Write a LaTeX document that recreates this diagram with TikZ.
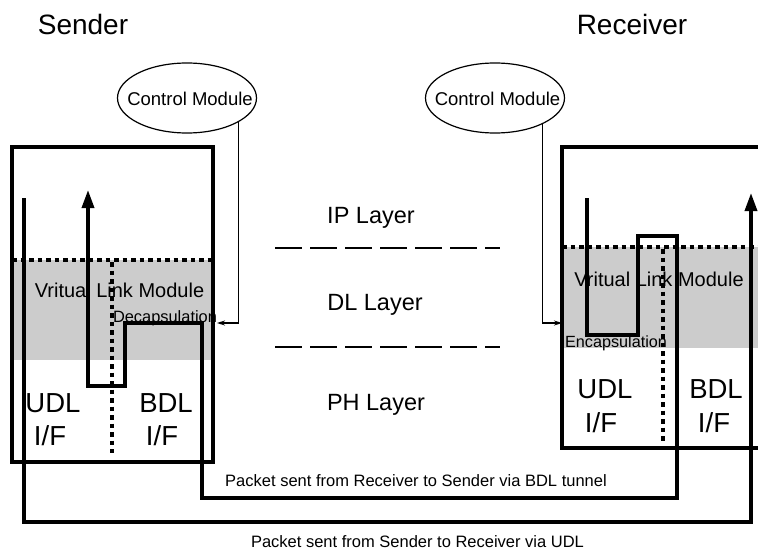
\documentclass[tikz,border=0pt]{standalone}
\usepackage{fontspec}
\setmainfont{Liberation Sans}
\usetikzlibrary{shapes.geometric,arrows.meta}
\newcommand\myfs[1]{\fontsize{#1}{#1}\selectfont}
\begin{document}
\begin{tikzpicture}[x=1pt,y=-1pt,
  lbl/.style={inner sep=0pt,anchor=base},
  modbox/.style={line width=4pt},
  route/.style={line width=3.5pt,line join=miter},
  dotline/.style={line width=3.5pt,dash pattern=on 4.5pt off 4pt},
  layerline/.style={line width=2.5pt,dash pattern=on 27pt off 8pt},
  ctrlmod/.style={draw,ellipse,line width=1.2pt,minimum width=139pt,minimum height=70pt,inner sep=0pt},
  thinarrow/.style={line width=1.2pt,-{Stealth[length=8pt,width=5pt]}},
  bigarrow/.style={-{Triangle[length=18pt,width=12pt]}},
  vlmfill/.style={fill=black!20,draw=none}
]
\path[use as bounding box] (0,0) rectangle (758,551);
\clip (0,0) rectangle (758,551);

% gray virtual link module bands
\fill[vlmfill] (12,260) rectangle (213,360);
\fill[vlmfill] (562,247) rectangle (775,348);

% boxes
\draw[modbox] (12,147) rectangle (213,462);
\draw[modbox] (562,147) rectangle (775,448);

% dotted separators
\draw[dotline] (12,260) -- (213,260);
\draw[dotline] (112,262) -- (112,453);
\draw[dotline] (562,247) -- (760,247);
\draw[dotline] (663,249) -- (663,442);

% layer lines
\draw[layerline] (275,248) -- (500,248);
\draw[layerline] (275,347) -- (500,347);

% titles
\node[lbl,font=\myfs{28}] (sender) at (83,35) {Sender};
\node[lbl,font=\myfs{28}] (receiver) at (632,35) {Receiver};

% layer labels
\node[lbl,font=\myfs{23.5}] (ip) at (371,223) {IP Layer};
\node[lbl,font=\myfs{23.5}] (dl) at (375,310) {DL Layer};
\node[lbl,font=\myfs{23.5}] (ph) at (376,410) {PH Layer};

% sender texts
\node[lbl,font=\myfs{20}] (vlmS) at (119.5,297) {Vritual Link Module};
\node[lbl,font=\myfs{16.4}] (dec) at (165,322) {Decapsulation};
\node[lbl,font=\myfs{27.5}] (udlS) at (53,412) {UDL};
\node[lbl,font=\myfs{27.5}] (ifS1) at (50,445) {I/F};
\node[lbl,font=\myfs{27.5}] (bdlS) at (166,412) {BDL};
\node[lbl,font=\myfs{27.5}] (ifS2) at (162,445) {I/F};

% receiver texts
\node[lbl,font=\myfs{20}] (vlmR) at (659,286) {Vritual Link Module};
\node[lbl,font=\myfs{16.2}] (enc) at (616,347) {Encapsulation};
\node[lbl,font=\myfs{27.5}] (udlR) at (605,398) {UDL};
\node[lbl,font=\myfs{27.5}] (ifR1) at (601,432) {I/F};
\node[lbl,font=\myfs{27.5}] (bdlR) at (716,398) {BDL};
\node[lbl,font=\myfs{27.5}] (ifR2) at (714,432) {I/F};

% bottom captions
\node[lbl,font=\myfs{16.5}] (capB) at (416,486) {Packet sent from Receiver to Sender via BDL tunnel};
\node[lbl,font=\myfs{16.5}] (capU) at (417.5,547) {Packet sent from Sender to Receiver via UDL};

% control modules
\node[ctrlmod] (cm1) at (187,98) {};
\node[lbl,font=\myfs{18.5}] (cmt1) at (190,105) {Control Module};
\node[ctrlmod] (cm2) at (495,98) {};
\node[lbl,font=\myfs{18.5}] (cmt2) at (497.5,105) {Control Module};

\coordinate (decin) at (217,323);
\coordinate (encin) at (562,323);
\draw[thinarrow] (cm1.-25) |- (decin);
\draw[thinarrow] (cm2.-29.5) |- (encin);

% routes
\coordinate (udlStart) at (24,198);
\coordinate (udlBot) at (400,522);
\coordinate (udlTip) at (751,193);
\draw[route,bigarrow] (udlStart) |- (udlBot) -| (udlTip);

\coordinate (r0) at (587,198);
\coordinate (r1) at (638,335);
\coordinate (r2) at (677,236);
\coordinate (bdlBot) at (400,498);
\coordinate (s1a) at (202,323);
\coordinate (s1) at (125,386);
\coordinate (sTip) at (88,190);
\draw[route,bigarrow] (r0) |- (r1) |- (r2) |- (bdlBot) -| (s1a) -| (s1) -| (sTip);
\end{tikzpicture}
\end{document}
